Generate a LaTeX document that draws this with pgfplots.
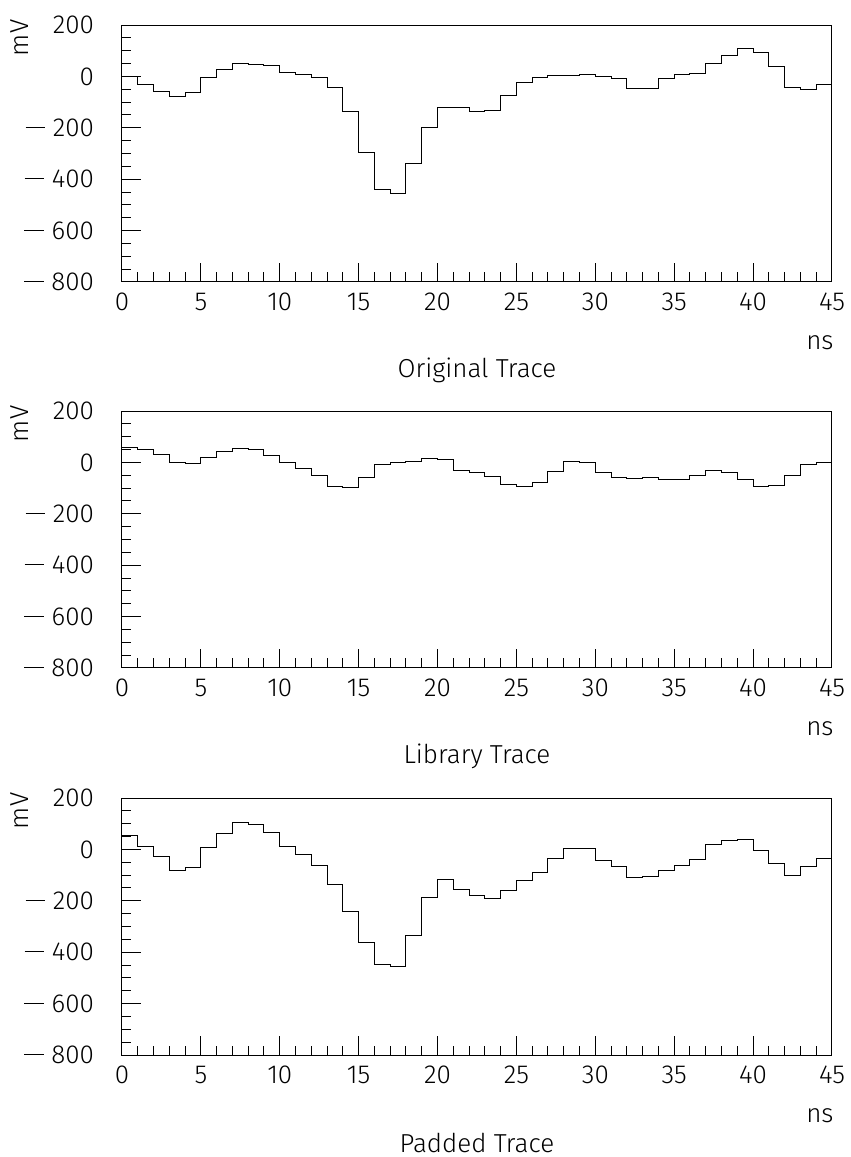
\documentclass[border=0pt]{standalone}
\usepackage{fontspec}
\setmainfont{Fira Sans}[UprightFont=* Light]
\usepackage{pgfplots}
\usepackage{pgfplotstable}
\pgfplotsset{compat=1.18}

\newcommand\mn{\rule[0.33em]{0.75em}{0.45pt}\hspace{0.3em}}

% bin start (ns), original, library, padded trace (mV)
\pgfplotstableread{
t orig lib pad
0 0 58 55
1 -31 50 13
2 -57 31 -28
3 -78 0 -81
4 -62 -5 -70
5 -6 19 9
6 26 44 63
7 52 54 105
8 48 50 97
9 44 25 65
10 17 0 13
11 9 -25 -19
12 -5 -52 -61
13 -45 -92 -138
14 -136 -99 -240
15 -297 -59 -361
16 -439 -9 -449
17 -455 1 -455
18 -339 5 -334
19 -199 15 -186
20 -121 10 -116
21 -121 -31 -155
22 -138 -39 -179
23 -134 -55 -191
24 -74 -85 -160
25 -22 -95 -121
26 -5 -80 -89
27 3 -34 -34
28 3 4 5
29 9 0 5
30 -1 -39 -45
31 -10 -57 -68
32 -47 -61 -110
33 -47 -57 -105
34 -10 -65 -81
35 9 -65 -61
36 13 -52 -39
37 52 -32 21
38 81 -39 35
39 108 -65 40
40 92 -95 -6
41 38 -90 -54
42 -44 -52 -101
43 -51 -10 -65
44 -31 0 -34
45 -31 0 -34
}\traces

\pgfplotsset{
  trace/.style={
    scale only axis, width=355pt, height=128.5pt,
    anchor=north west,
    xmin=0, xmax=45, ymin=-800, ymax=200,
    xtick={0,5,...,45}, minor x tick num=4,
    ytick={-800,-600,...,200}, minor y tick num=3,
    yticklabels={\mn800,\mn600,\mn400,\mn200,0,200},
    xtick pos=bottom, ytick pos=left,
    tick align=inside,
    major tick length=9.5pt, minor tick length=4.75pt,
    every tick/.style={black, line width=0.5pt},
    axis line style={line width=0.5pt},
    /pgf/number format/assume math mode=true,
    tick label style={font=\fontsize{13}{15}\selectfont},
    xticklabel style={yshift=-2pt},
    yticklabel style={xshift=-10.5pt},
    label style={font=\fontsize{13}{15}\selectfont},
    xlabel={ns},
    xlabel style={at={(axis description cs:0.983,0)}, anchor=center, yshift=-30.5pt},
    ylabel={mV},
    ylabel style={at={(axis description cs:-0.144,0.95)}, anchor=center},
    title style={at={(axis description cs:0.5,0)}, anchor=center, yshift=-50pt,
      inner sep=0pt, font=\fontsize{13}{15}\selectfont},
  },
  step/.style={const plot, black, line width=0.5pt, mark=none},
}

\begin{document}
\begin{tikzpicture}
\path[use as bounding box] (0,0) rectangle (425.5pt,-578.5pt);

\begin{axis}[trace, at={(61pt,-12.5pt)}, title={Original Trace}]
  \addplot[step] table[x=t, y=orig] {\traces};
\end{axis}

\begin{axis}[trace, at={(61pt,-205.5pt)}, title={Library Trace}]
  \addplot[step] table[x=t, y=lib] {\traces};
\end{axis}

\begin{axis}[trace, at={(61pt,-399pt)}, title={Padded Trace}]
  \addplot[step] table[x=t, y=pad] {\traces};
\end{axis}
\end{tikzpicture}
\end{document}
